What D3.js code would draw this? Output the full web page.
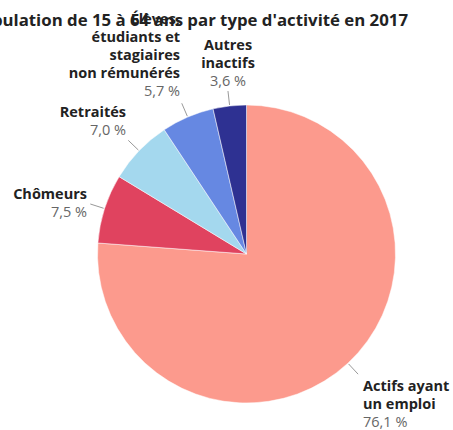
<!DOCTYPE html>
<html>
<head>
<meta charset="utf-8">
<script src="https://cdn.jsdelivr.net/npm/d3@7"></script>
<style>
  body { margin: 0; background: #fff; }
  svg { display: block; font-family: "Open Sans", sans-serif; }
</style>
</head>
<body>
<svg class="chart" width="453" height="430"></svg>
<script>
// data
const categories = [
  "Actifs ayant un emploi",
  "Chômeurs",
  "Retraités",
  "Élèves, étudiants et stagiaires non rémunérés",
  "Autres inactifs"
];
const values = [76.1, 7.5, 7.0, 5.7, 3.6];
const valueLabels = ["76,1 %", "7,5 %", "7,0 %", "5,7 %", "3,6 %"];
const nameLines = [
  ["Actifs ayant", "un emploi"],
  ["Chômeurs"],
  ["Retraités"],
  ["Élèves,", "étudiants et", "stagiaires", "non rémunérés"],
  ["Autres", "inactifs"]
];
const colors = ["#fc9a8d", "#e0435f", "#a4d8ee", "#6688e2", "#2e3192"];

// label layout (x, first baseline, anchor)
const labelLayout = [
  { x: 363, y: 391, anchor: "start" },
  { x: 87, y: 199, anchor: "end" },
  { x: 126, y: 117, anchor: "end" },
  { x: 180, y: 24, anchor: "end" },
  { x: 228, y: 50, anchor: "middle" }
];

const svg = d3.select(".chart");
const cx = 246.5, cy = 254, radius = 149;
const lineH = 18;

svg.append("text")
  .attr("x", 408)
  .attr("y", 26)
  .attr("text-anchor", "end")
  .attr("font-size", 16.8)
  .attr("font-weight", "bold")
  .attr("fill", "#222")
  .text("Population de 15 à 64 ans par type d'activité en 2017");

const pie = d3.pie().sort(null).value(d => d);
const arcs = pie(values);
const arc = d3.arc().innerRadius(0).outerRadius(radius);

const g = svg.append("g").attr("transform", `translate(${cx},${cy})`);

g.selectAll("path.slice")
  .data(arcs)
  .join("path")
  .attr("class", "slice")
  .attr("d", arc)
  .attr("fill", (d, i) => colors[i])
  .attr("stroke", "#fff")
  .attr("stroke-width", 0.5);

// leader lines from the rim outward
const inner = d3.arc().innerRadius(radius + 1).outerRadius(radius + 1);
const outer = d3.arc().innerRadius(radius + 15).outerRadius(radius + 15);
g.selectAll("line.leader")
  .data(arcs)
  .join("line")
  .attr("class", "leader")
  .attr("x1", d => inner.centroid(d)[0])
  .attr("y1", d => inner.centroid(d)[1])
  .attr("x2", d => outer.centroid(d)[0])
  .attr("y2", d => outer.centroid(d)[1])
  .attr("stroke", "#999")
  .attr("stroke-width", 1);

// labels
const labels = svg.selectAll("text.label")
  .data(categories)
  .join("text")
  .attr("class", "label")
  .attr("text-anchor", (d, i) => labelLayout[i].anchor)
  .attr("font-size", 14.5);

labels.each(function (d, i) {
  const t = d3.select(this);
  const lay = labelLayout[i];
  nameLines[i].forEach((ln, j) => {
    t.append("tspan")
      .attr("x", lay.x)
      .attr("y", lay.y + j * lineH)
      .attr("font-weight", "bold")
      .attr("fill", "#222")
      .text(ln);
  });
  t.append("tspan")
    .attr("x", lay.x)
    .attr("y", lay.y + nameLines[i].length * lineH)
    .attr("fill", "#666")
    .text(valueLabels[i]);
});
</script>
</body>
</html>
